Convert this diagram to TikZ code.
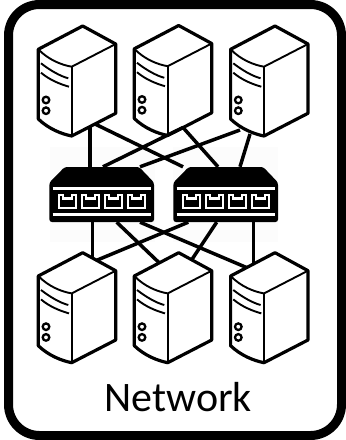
\documentclass[tikz,border=0pt]{standalone}
\usepackage{fontspec}
\setmainfont{Carlito}
\newcommand{\serverbox}[2]{%
  \node[hostnode] (#1) at (#2) {};
  \begin{scope}[shift={(#2)}]
    \draw[hostedge, fill=white] (0,0) .. controls (-10,-2) and (-23,-7) .. (-33.4,-17) -- (-33.4,-86.7) -- (11,-110) -- (44,-92) -- (44,-22.7) -- cycle;
    \draw[hostline] (-33.4,-86.7) .. controls (-23,-76) and (-10,-71) .. (0,-69.3) -- (44,-92);
    \draw[hostline] (0,-69.3) -- (0,0);
    \draw[hostline] (-30.7,-72.7) .. controls (-22,-66) and (-12,-60) .. (-3.4,-57.7);
    \draw[hostline] (-30.7,-63.3) .. controls (-22,-56) and (-12,-52) .. (-2.7,-49.3);
    \draw[hostring] (-25.7,-36) circle (3.3);
    \draw[hostring] (-25.7,-25.3) circle (3.3);
  \end{scope}
}
\newcommand{\switchbox}[2]{%
  \node[swnode] (#1) at (#2) {};
  \begin{scope}[shift={(#2)}]
    \fill[rounded corners=2.5] (-37,-27.5) -- (37.5,-27.5) -- (52.3,-12) -- (52.3,27.5) -- (-52.3,27.5) -- (-52.3,-12) -- cycle;
    \draw[swline] (-49,-5.8) -- (49.5,-5.8);
    \draw[swline] (-49,20.2) -- (49.5,20.2);
    \foreach \px in {-34.2,-11.2,11.6,35} {
      \draw[swport] (\px-8.3,0.8) -- (\px-8.3,13.6) -- (\px+8.3,13.6) -- (\px+8.3,0.8) -- (\px+4.5,0.8) -- (\px+4.5,4) -- (\px-4.5,4) -- (\px-4.5,0.8) -- cycle;
    }
  \end{scope}
}
\begin{document}
\begin{tikzpicture}[
    x=1pt, y=-1pt,
    hostnode/.style={inner sep=0pt, minimum size=0pt},
    swnode/.style={inner sep=0pt, minimum width=104.6pt, minimum height=55pt},
    hostedge/.style={line width=3.2pt, line join=round},
    hostline/.style={line width=1.9pt},
    hostring/.style={line width=2.3pt},
    swline/.style={line width=2.6pt, white},
    swport/.style={line width=2.1pt, white, line join=miter},
    wire/.style={line width=3.5pt},
    frame/.style={line width=9pt, rounded corners=31pt}
]
\useasboundingbox (0,0) rectangle (346,440);
\fill[black!1] (50,147) rectangle (155,242);
\fill[black!1] (173,147) rectangle (278,242);
\draw[frame] (8.5,4.5) rectangle (341.5,435.5);

\serverbox{srvA}{71.7,136}
\serverbox{srvB}{167.7,135.5}
\serverbox{srvC}{264,136}
\serverbox{srvD}{71.7,362.7}
\serverbox{srvE}{167.7,362.7}
\serverbox{srvF}{264,362.7}
\switchbox{swA}{101.7,194.5}
\switchbox{swB}{225.7,194.5}

% upper wires
\draw[wire] ([xshift=18.3pt,yshift=9.4pt]srvA.center) -- ([xshift=-11.7pt]swA.north);
\draw[wire] ([xshift=23.3pt,yshift=12pt]srvA.center) -- ([xshift=-42.7pt]swB.north);
\draw[wire] ([xshift=15.3pt,yshift=8pt]srvB.center) -- ([xshift=1.3pt]swA.north);
\draw[wire] ([xshift=15.3pt,yshift=8pt]srvB.center) -- ([xshift=-7.7pt]swB.north);
\draw[wire] ([xshift=-24pt,yshift=6pt]srvC.center) -- ([xshift=38.3pt]swA.north);
\draw[wire] ([xshift=-14pt,yshift=2pt]srvC.center) -- ([xshift=14.3pt]swB.north);

% lower wires
\draw[wire] ([xshift=-9.4pt]swA.south) -- ([xshift=20.6pt,yshift=104.7pt]srvD.center);
\draw[wire] ([xshift=-37.4pt]swB.south) -- ([xshift=25pt,yshift=102.4pt]srvD.center);
\draw[wire] ([xshift=15pt]swA.south) -- ([xshift=-8.4pt,yshift=99.8pt]srvE.center);
\draw[wire] ([xshift=-9pt]swB.south) -- ([xshift=24pt,yshift=102.9pt]srvE.center);
\draw[wire] ([xshift=38.3pt]swA.south) -- ([xshift=-17.3pt,yshift=95.1pt]srvF.center);
\draw[wire] ([xshift=27.6pt]swB.south) -- ([xshift=-10.7pt,yshift=98.6pt]srvF.center);

\node[anchor=base, font=\fontsize{42}{42}\selectfont, inner sep=0pt] (caption) at (178.3,411) {Network};
\end{tikzpicture}
\end{document}
